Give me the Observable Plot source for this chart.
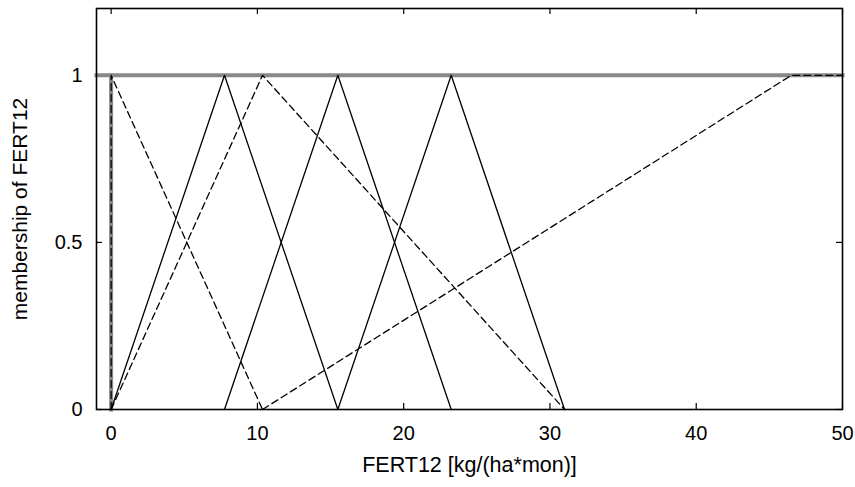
<!DOCTYPE html>
<html>
<head>
<meta charset="utf-8">
<script src="https://cdn.jsdelivr.net/npm/d3@7"></script>
<script src="https://cdn.jsdelivr.net/npm/@observablehq/plot@0.6"></script>
<style>
  html, body { margin: 0; padding: 0; background: #fff; }
  #chart { width: 855px; height: 487px; }
</style>
</head>
<body>
<div id="chart"></div>
<script>
// ---- data ----
const xTicks = [0, 10, 20, 30, 40, 50];
const yTicks = [0, 0.5, 1];
const xLabel = "FERT12 [kg/(ha*mon)]";
const yLabel = "membership of FERT12";

// gray (thick) membership outline
const grayVertX = [0, 0];       const grayVertY = [0, 1];
const grayTopX  = [-1, 50];     const grayTopY  = [1, 1];

// solid triangles
const solidAX = [0, 7.75, 15.5];     const solidAY = [0, 1, 0];
const solidBX = [7.75, 15.5, 23.25]; const solidBY = [0, 1, 0];
const solidCX = [15.5, 23.25, 31];   const solidCY = [0, 1, 0];

// dashed shapes
const dashAX = [0, 0, 10.35];        const dashAY = [0, 1, 0];
const dashBX = [0, 10.35, 31];       const dashBY = [0, 1, 0];
const dashCX = [10.35, 46.5, 50];    const dashCY = [0, 1, 1];

// ---- build tables ----
function pts(name, xs, ys) { return xs.map((x, i) => ({series: name, x, y: ys[i]})); }
const grayData = [...pts("gv", grayVertX, grayVertY), ...pts("gt", grayTopX, grayTopY)];
const solidData = [...pts("A", solidAX, solidAY), ...pts("B", solidBX, solidBY), ...pts("C", solidCX, solidCY)];
const dashData = [...pts("A", dashAX, dashAY), ...pts("B", dashBX, dashBY), ...pts("C", dashCX, dashCY)];

const font = "'Liberation Sans', Arial, sans-serif";

const chart = Plot.plot({
  width: 855,
  height: 487,
  marginLeft: 96,
  marginRight: 13,
  marginTop: 8,
  marginBottom: 78,
  style: {fontFamily: font, fontSize: "20px", background: "#fff", color: "#000"},
  x: {domain: [-1, 50], ticks: xTicks},
  y: {domain: [0, 1.2], ticks: yTicks},
  marks: [
    // inward ticks (bottom, top, left, right)
    Plot.ruleX(xTicks, {x: d => d, y1: 0, y2: 0.018, stroke: "#000", strokeWidth: 1.2}),
    Plot.ruleX(xTicks, {x: d => d, y1: 1.2, y2: 1.182, stroke: "#000", strokeWidth: 1.2}),
    Plot.ruleY(yTicks, {y: d => d, x1: -1, x2: -0.59, stroke: "#000", strokeWidth: 1.2}),
    Plot.ruleY(yTicks, {y: d => d, x1: 50, x2: 49.59, stroke: "#000", strokeWidth: 1.2}),
    // gray thick lines
    Plot.line(grayData, {x: "x", y: "y", z: "series", stroke: "#888", strokeWidth: 4, strokeLinecap: "square"}),
    // solid triangles
    Plot.line(solidData, {x: "x", y: "y", z: "series", stroke: "#000", strokeWidth: 1.3}),
    // dashed shapes
    Plot.line(dashData, {x: "x", y: "y", z: "series", stroke: "#000", strokeWidth: 1.3, strokeDasharray: "7,4"}),
    // frame
    Plot.frame({stroke: "#000", strokeWidth: 1.6}),
    // axes (labels only)
    Plot.axisX({anchor: "bottom", ticks: xTicks, tickSize: 0, tickPadding: 16, fontSize: 20, label: null}),
    Plot.axisY({anchor: "left", ticks: yTicks, tickSize: 0, tickPadding: 14, fontSize: 20, label: null, tickFormat: d => String(d)}),
    // axis titles
    Plot.text([xLabel], {frameAnchor: "bottom", dy: 62, text: d => d, fontSize: 21.5, fill: "#000", textAnchor: "middle"}),
    Plot.text([yLabel], {frameAnchor: "left", dx: -76, rotate: -90, text: d => d, fontSize: 21, fill: "#000", textAnchor: "middle"})
  ]
});
document.getElementById("chart").appendChild(chart);
</script>
</body>
</html>
